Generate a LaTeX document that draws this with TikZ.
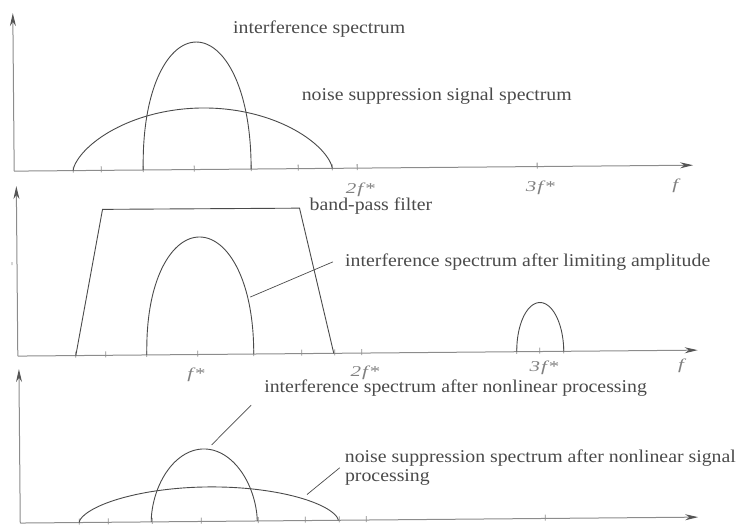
\documentclass[tikz,border=0pt]{standalone}
\usepackage{fontspec}
\setmainfont{Liberation Serif}[FakeStretch=1.1]
\newfontfamily\axfont{Liberation Serif}[FakeStretch=1.4]
\usetikzlibrary{arrows.meta}
\definecolor{ink}{HTML}{4A4A4A}
\definecolor{axisgray}{HTML}{8C8C8C}
\definecolor{tipgray}{HTML}{555555}
\definecolor{lblgray}{HTML}{808080}
\newcommand{\drawhump}[5]{%
  \draw[curve] plot[domain=0:180, samples=121] ({#1+#2*cos(\x)}, {#3-#4*pow(abs(sin(\x))+0.0001,2*#5)});%
}
\tikzset{
  axisline/.style={draw=axisgray, line width=1pt, -{Stealth[length=13pt,width=6pt,color=tipgray]}},
  curve/.style={draw=ink, line width=0.9pt},
  leader/.style={draw=ink, line width=0.7pt},
  lbl/.style={inner sep=0pt, anchor=base west, text=ink, font=\fontsize{18}{20}\selectfont},
  axlbl/.style={inner sep=0pt, anchor=base, text=lblgray, font=\axfont\fontsize{15}{17}\selectfont\itshape},
  tickmark/.style={draw=axisgray, line width=0.8pt},
}
\begin{document}
\begin{tikzpicture}[x=1pt,y=-1pt]
\useasboundingbox (0,0) rectangle (748,529);
\begin{scope}[rotate around={0.5:(374,264)}]
% ---------- panel 1 ----------
\coordinate (o1) at (15,168);
\coordinate (x1) at (694,168);
\coordinate (y1) at (15,10);
\draw[axisline] (o1) -- (x1);
\draw[axisline] (o1) -- (y1);
\foreach \t in {74,102,144,195,252,299,333,358,538}
  \draw[tickmark] (\t,164) -- (\t,170);
\drawhump{203.5}{129.5}{168}{61.5}{0.65}
\drawhump{198}{54}{168}{127.5}{0.45}
\node[lbl] (t1) at (235,32.5) {interference spectrum};
\node[lbl] (t2) at (303,100) {noise suppression signal spectrum};
\node[axlbl] (a12) at (361,193) {2\kern1pt f\kern1pt *};
\node[axlbl] (a13) at (541,193) {3\kern1pt f\kern1pt *};
\node[axlbl] (a1f) at (676,192) {f};
% ---------- panel 2 ----------
\coordinate (o2) at (17,353);
\coordinate (x2) at (697,353);
\coordinate (y2) at (17,183);
\draw[axisline] (o2) -- (x2);
\draw[axisline] (o2) -- (y2);
\foreach \t in {75,105,146,197,253,301,334,361,516,539,563}
  \draw[tickmark] (\t,349) -- (\t,355);
\draw[curve] (75,353) -- (103,207) -- (300,207.5) -- (333,353);
\drawhump{199.5}{53.5}{353}{117.5}{0.45}
\drawhump{539.5}{23.5}{353}{49}{0.5}
\node[lbl] (t3) at (310,210) {band-pass filter};
\node[lbl] (t4) at (345,266.5) {interference spectrum after limiting amplitude};
\coordinate (c4) at (250,296);
\coordinate (e4) at (333,261.5);
\draw[leader] (c4) -- (e4);
\node[axlbl] (a21) at (195,377) {f\kern1pt *};
\node[axlbl] (a22) at (364,376) {2\kern1pt f\kern1pt *};
\node[axlbl] (a23) at (543,373) {3\kern1pt f\kern1pt *};
\node[axlbl] (a2f) at (680,372) {f};
\draw[axisgray, line width=0.8pt] (12,259) -- (12,262);
% ---------- panel 3 ----------
\coordinate (o3) at (18,520);
\coordinate (x3) at (696,520);
\coordinate (y3) at (18,366);
\draw[axisline] (o3) -- (x3);
\draw[axisline] (o3) -- (y3);
\foreach \t in {77,106,150,199,256,303,337,364,543}
  \draw[tickmark] (\t,516) -- (\t,522);
\drawhump{206.5}{129.5}{520}{34.5}{0.6}
\drawhump{202}{53}{520}{72.5}{0.55}
\node[lbl] (t5) at (263,392) {interference spectrum after nonlinear processing};
\coordinate (c5) at (210,443.6);
\coordinate (e5) at (250,404);
\draw[leader] (c5) -- (e5);
\node[lbl] (t6) at (343,462) {noise suppression spectrum after nonlinear signal};
\node[lbl] (t6b) at (343,481) {processing};
\coordinate (c6) at (305,494);
\coordinate (e6) at (338,467.5);
\draw[leader] (c6) -- (e6);
\end{scope}
\end{tikzpicture}
\end{document}
